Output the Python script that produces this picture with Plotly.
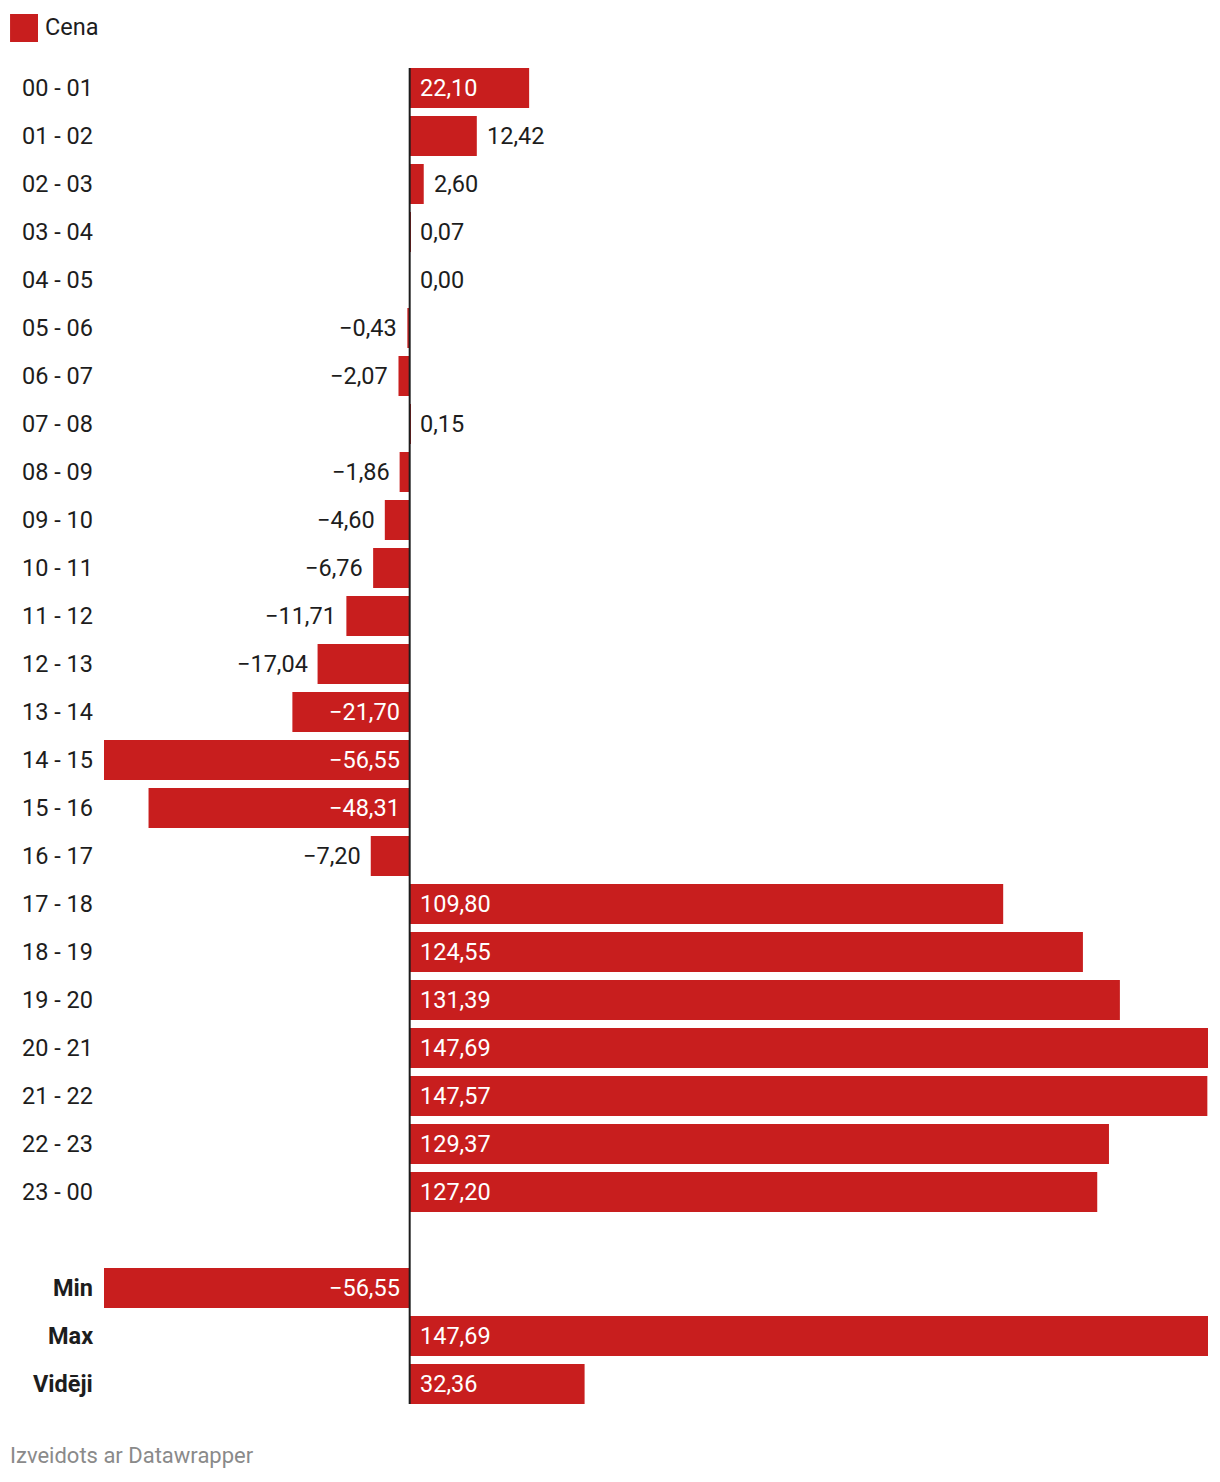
import plotly.graph_objects as go

hours = ["00 - 01", "01 - 02", "02 - 03", "03 - 04", "04 - 05", "05 - 06", "06 - 07",
         "07 - 08", "08 - 09", "09 - 10", "10 - 11", "11 - 12", "12 - 13", "13 - 14",
         "14 - 15", "15 - 16", "16 - 17", "17 - 18", "18 - 19", "19 - 20", "20 - 21",
         "21 - 22", "22 - 23", "23 - 00"]
prices = [22.10, 12.42, 2.60, 0.07, 0.00, -0.43, -2.07, 0.15, -1.86, -4.60, -6.76,
          -11.71, -17.04, -21.70, -56.55, -48.31, -7.20, 109.80, 124.55, 131.39,
          147.69, 147.57, 129.37, 127.20]
summary_labels = ["Min", "Max", "Vidēji"]
summary_values = [-56.55, 147.69, 32.36]

RED = "#c81e1e"
DARK = "#1d1d1d"
FONT = "Roboto"
FS = 23.5

labels = hours + summary_labels
values = prices + summary_values
positions = list(range(len(hours))) + [len(hours) + 1 + i for i in range(len(summary_labels))]
bold = [False] * len(hours) + [True] * len(summary_labels)


def fmt(v):
    s = f"{abs(v):.2f}".replace(".", ",")
    return ("\u2212" + s) if v < 0 else s


fig = go.Figure()
fig.add_trace(go.Bar(
    x=values, y=positions, orientation="h",
    marker=dict(color=RED, line=dict(width=0)),
    hoverinfo="skip", showlegend=False,
))

annotations = []
for lab, v, p, b in zip(labels, values, positions, bold):
    annotations.append(dict(
        x=0, xref="paper", y=p, yref="y", xanchor="right", yanchor="middle",
        xshift=-9, showarrow=False,
        text=f"<b>{lab}</b>" if b else lab,
        font=dict(family=FONT, size=FS, color=DARK),
    ))
    inside = abs(v) >= 20
    if v < 0:
        if inside:
            ann = dict(x=0, xanchor="right", xshift=-8, color="white")
        else:
            ann = dict(x=v, xanchor="right", xshift=-8, color=DARK)
    else:
        if inside:
            ann = dict(x=0, xanchor="left", xshift=8, color="white")
        else:
            ann = dict(x=v, xanchor="left", xshift=8, color=DARK)
    annotations.append(dict(
        x=ann["x"], xref="x", y=p, yref="y", xanchor=ann["xanchor"], yanchor="middle",
        xshift=ann["xshift"], showarrow=False, text=fmt(v),
        font=dict(family=FONT, size=FS, color=ann["color"]),
    ))

# legend
annotations.append(dict(
    x=-0.0555, xref="paper", y=1.0275, yref="paper", xanchor="left", yanchor="middle",
    showarrow=False, text="Cena", font=dict(family=FONT, size=FS, color=DARK),
))
# footer
annotations.append(dict(
    x=-0.0866, xref="paper", y=-0.0357, yref="paper", xanchor="left", yanchor="middle",
    showarrow=False, text="Izveidots ar Datawrapper",
    font=dict(family=FONT, size=22, color="#8a8a8a"),
))

shapes = [
    dict(type="rect", xref="paper", yref="paper", x0=-0.0851, x1=-0.0598,
         y0=1.01637, y1=1.0372, fillcolor=RED, line=dict(width=0)),
    dict(type="line", xref="x", yref="y", x0=0, x1=0,
         y0=-0.5 + 4 / 48, y1=positions[-1] + 0.5 - 4 / 48,
         line=dict(color=DARK, width=2)),
]

fig.update_layout(
    width=1212, height=1474,
    margin=dict(l=96, r=12, t=56, b=74),
    paper_bgcolor="white", plot_bgcolor="white",
    bargap=1 / 6,
    xaxis=dict(range=[min(values), max(values)], showgrid=False, zeroline=False,
               showticklabels=False, ticks="", fixedrange=True),
    yaxis=dict(range=[positions[-1] + 0.5, -0.5], showgrid=False, zeroline=False,
               showticklabels=False, ticks="", fixedrange=True),
    annotations=annotations,
    shapes=shapes,
    font=dict(family=FONT),
)

fig.write_html("out.html", config={"displayModeBar": False})
